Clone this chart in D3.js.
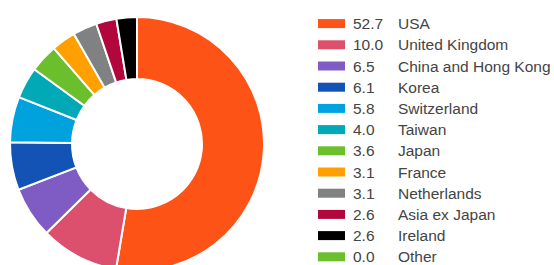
<!DOCTYPE html>
<html lang="en">
  <head>
    <meta charset="utf-8"/>
    <script src="https://d3js.org/d3.v7.min.js"></script>
    <style>
      body { margin: 0; background: #fff; }
      .legend text {
        font-family: "Liberation Sans", Arial, sans-serif;
        font-size: 15.5px;
        fill: #444;
      }
    </style>
  </head>
  <body>
    <div id="chart"></div>
    <script>
      // ---- data ----
      var countries = ["USA", "United Kingdom", "China and Hong Kong", "Korea", "Switzerland",
        "Taiwan", "Japan", "France", "Netherlands", "Asia ex Japan", "Ireland", "Other"];
      var weights = [52.7, 10.0, 6.5, 6.1, 5.8, 4.0, 3.6, 3.1, 3.1, 2.6, 2.6, 0.0];
      var colours = ["#fd5316", "#dc506e", "#7e5cc4", "#1253b5", "#00a2de", "#00a9b5",
        "#6cbf2c", "#ffa000", "#808183", "#b2073c", "#000000", "#6cbf2c"];

      var width = 554, height = 265;
      var cx = 137, cy = 144, outerR = 127, innerR = 65;

      var svg = d3.select("#chart")
        .append("svg")
          .attr("width", width)
          .attr("height", height);

      var rows = countries.map(function(c, i) {
        return { name: c, value: weights[i], colour: colours[i] };
      });

      var pie = d3.pie()
        .sort(null)
        .value(function(d) { return d.value; });

      var arc = d3.arc()
        .innerRadius(innerR)
        .outerRadius(outerR);

      svg.append("g")
          .attr("transform", "translate(" + cx + "," + cy + ")")
        .selectAll("path")
        .data(pie(rows).filter(function(d) { return d.data.value > 0; }))
        .enter().append("path")
          .attr("d", arc)
          .attr("fill", function(d) { return d.data.colour; })
          .attr("stroke", "#fff")
          .attr("stroke-width", 2);

      // legend
      var y = d3.scaleBand()
        .domain(countries)
        .range([13, 13 + 21.2 * countries.length]);

      var legend = svg.append("g").attr("class", "legend");

      var row = legend.selectAll("g")
        .data(rows)
        .enter().append("g")
          .attr("transform", function(d) { return "translate(0," + (y(d.name) + y.bandwidth() / 2) + ")"; });

      row.append("rect")
        .attr("x", 318)
        .attr("y", -4.5)
        .attr("width", 27)
        .attr("height", 9)
        .attr("fill", function(d) { return d.colour; });

      row.append("text")
        .attr("x", 353)
        .attr("dy", "0.36em")
        .text(function(d) { return d.value.toFixed(1); });

      row.append("text")
        .attr("x", 398)
        .attr("dy", "0.36em")
        .text(function(d) { return d.name; });
    </script>
  </body>
</html>
